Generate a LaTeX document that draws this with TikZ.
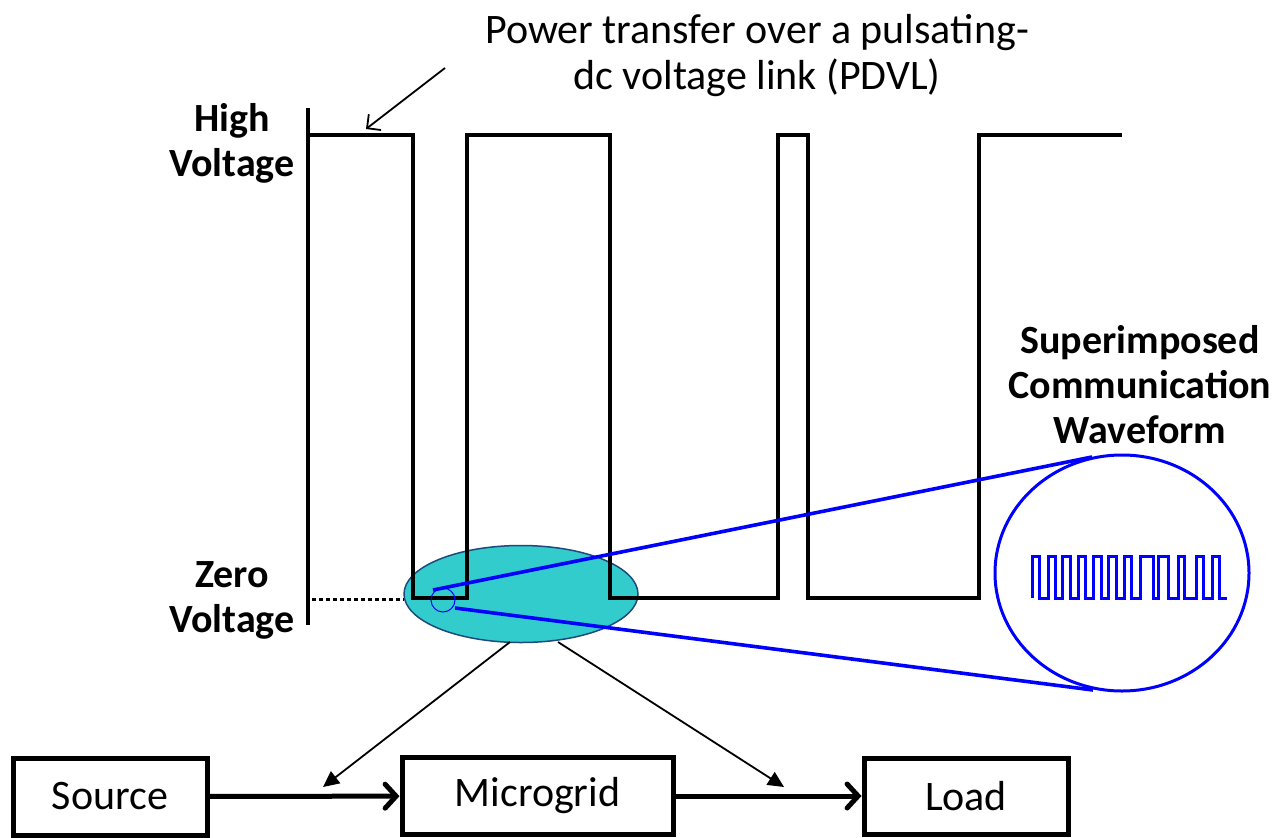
\documentclass[tikz,border=0pt]{standalone}
\usepackage{fontspec}
\setmainfont{Carlito}
\usetikzlibrary{arrows.meta,shapes.geometric}
\definecolor{tealfill}{RGB}{51,204,204}
\definecolor{tealedge}{RGB}{31,73,125}
\begin{document}
\begin{tikzpicture}[x=1pt,y=-1pt,
 wave/.style={line width=3.6pt},
 blk/.style={draw, line width=5pt, minimum height=77pt, inner sep=0pt, font=\fontsize{42}{50}\selectfont},
 flow/.style={line width=5pt, -{Straight Barb[length=11pt,width=24pt,line cap=round]}},
 ptr/.style={line width=1.8pt, -{Triangle[length=16pt,width=15pt]}},
 lbl/.style={font=\bfseries\fontsize{40}{45}\selectfont, align=center},
 zoomline/.style={blue, line width=3.6pt}
]
\useasboundingbox (0,0) rectangle (1280,838);

% title and pointer
\node[font=\fontsize{42}{46}\selectfont, align=center] (title) at (757,56) {Power transfer over a pulsating-\\dc voltage link (PDVL)};
\coordinate (pa) at (445,68);
\coordinate (pb) at (366,129);
\draw[line width=1.8pt, -{Straight Barb[length=10pt,width=20pt]}] (pa) -- (pb);

% labels
\node[lbl] (hv) at (232,143) {High\\Voltage};
\node[lbl] (zv) at (232,600) {Zero\\Voltage};
\node[lbl] (sc) at (1140,385) {Superimposed\\Communication\\Waveform};

% highlight ellipse
\node[ellipse, fill=tealfill, draw=tealedge, line width=1.5pt, minimum width=234pt, minimum height=97pt, inner sep=0pt] (ell) at (521,594) {};

% axis and PDVL waveform
\draw[wave] (308,108) -- (308,625);
\draw[wave] (308,135) -- (413,135) -- (413,598) -- (467,598) -- (467,135) -- (610,135) -- (610,598) -- (778,598) -- (778,135) -- (808,135) -- (808,598) -- (979,598) -- (979,135) -- (1122,135);
\draw[line width=3pt, dash pattern=on 4pt off 3pt] (312,599) -- (404,599);

% small circle and zoom lines
\node[circle, draw=blue, line width=1pt, minimum size=24pt, inner sep=0pt] (small) at (443,600) {};
\node[ellipse, draw=blue, line width=3pt, minimum width=254pt, minimum height=236pt, inner sep=0pt] (big) at (1122,573) {};
\coordinate (u1) at (433,590);
\coordinate (u2) at (1092,457);
\coordinate (l1) at (455,608);
\coordinate (l2) at (1093,690);
\draw[zoomline] (u1) -- (u2);
\draw[zoomline] (l1) -- (l2);

% communication waveform
\draw[blue, line width=3pt] (1032,598)
 \foreach \a/\b in {1032/1039,1048/1055,1062/1070,1078/1085,1093/1101,1108/1116,1124/1131,1140/1153,1158/1168,1178/1184,1196/1203,1212/1219}
 { -- (\a,598) -- (\a,556) -- (\b,556) -- (\b,598) } -- (1227,598);

% blocks
\node[blk, minimum width=194pt] (src) at (110,796.5) {Source};
\node[blk, minimum width=271pt] (mg) at (537.5,796) {Microgrid};
\node[blk, minimum width=204pt, minimum height=76pt] (ld) at (966,796) {Load};
\draw[flow] (src) -- (mg);
\draw[flow] (mg) -- (ld);

% pointers from ellipse
\coordinate (e1) at (510,642);
\coordinate (e2) at (558,642);
\coordinate (t1) at (323,787);
\coordinate (t2) at (784,787);
\draw[ptr] (e1) -- (t1);
\draw[ptr] (e2) -- (t2);
\end{tikzpicture}
\end{document}
